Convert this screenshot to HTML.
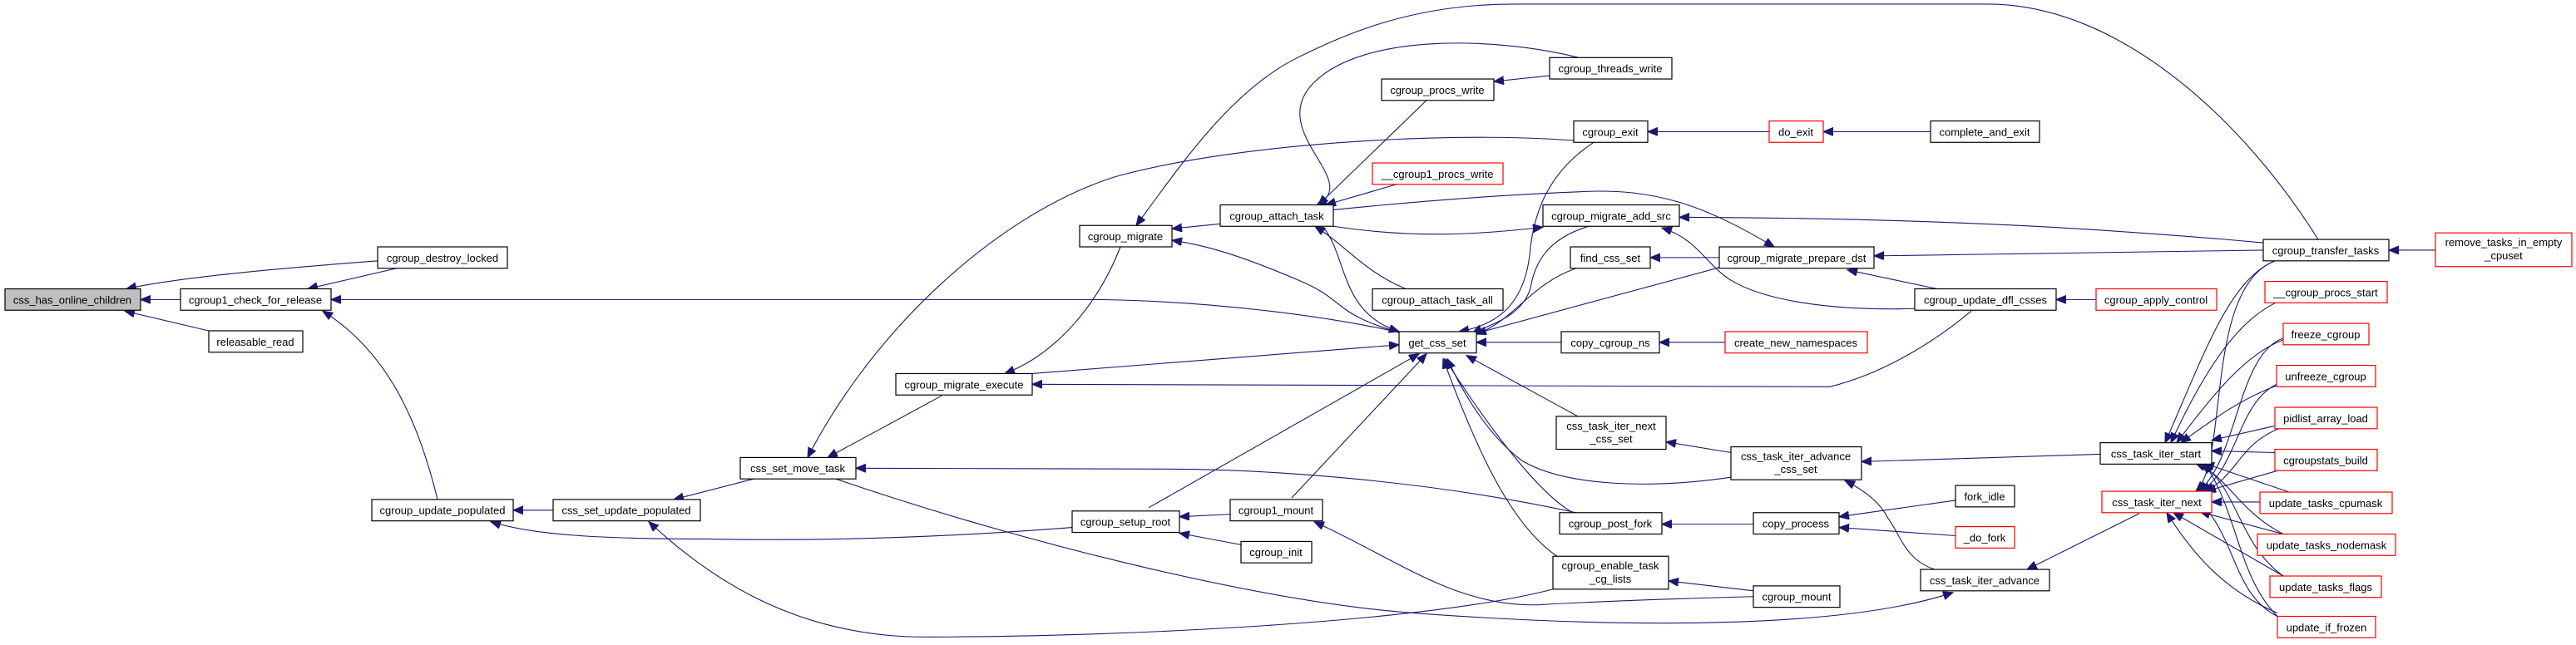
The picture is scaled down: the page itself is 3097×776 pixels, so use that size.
<!DOCTYPE html>
<html><head><meta charset="utf-8"><style>
html,body{margin:0;padding:0;background:#fff;}
svg{display:block;}
text{font-family:"Liberation Sans",sans-serif;font-size:13px;fill:#000;text-anchor:middle;}
.n rect{fill:#fff;stroke:#000;stroke-width:1.2;}
.r rect{fill:#fff;stroke:#ff0000;stroke-width:1.2;}
.g rect{fill:#bfbfbf;stroke:#000;stroke-width:1.2;}
path{fill:none;stroke:#191970;stroke-width:1.1;}
</style></head><body>
<svg width="3097" height="776" viewBox="0 0 3097 776" xmlns="http://www.w3.org/2000/svg">
<defs><marker id="a" markerUnits="userSpaceOnUse" markerWidth="14" markerHeight="12" refX="12" refY="5" orient="auto"><path d="M0,0 L12,5 L0,10 z" style="fill:#191970;stroke:#191970"/></marker></defs>
<g transform="scale(1,0.99)">
<g marker-end="url(#a)">
<path d="M217,364 L169,364"/>
<path d="M454,317 C350,325 220,336 152,351"/>
<path d="M251,402 L150,378"/>
<path d="M477,326 L370,351"/>
<path d="M1682,404 C1600,385 1450,364 1300,364 L398,364"/>
<path d="M526,607 C505,520 470,430 388,378"/>
<path d="M665,620 L617,620"/>
<path d="M1289,641 C1150,652 1000,658 850,655 C720,655 640,650 590,634"/>
<path d="M906,582 L810,607"/>
<path d="M1867,716 C1700,760 1300,775 1100,774 C950,770 850,700 780,634"/>
<path d="M1916,173 C1780,158 1500,170 1340,215 C1200,260 1050,400 971,556"/>
<path d="M1132,481 L995,556"/>
<path d="M1895,623 C1700,580 1500,570 1400,570 L1029,569"/>
<path d="M1005,582 C1200,650 1500,730 1700,745 C1900,760 2200,770 2348,720"/>
<path d="M2108,725 C2000,728 1900,732 1850,735 C1750,738 1680,680 1580,634"/>
<path d="M1715,122 L1585,249"/>
<path d="M1863,92 L1796,99"/>
<path d="M1898,70 C1800,45 1640,40 1580,100 C1520,160 1640,220 1583,249"/>
<path d="M1679,224 L1594,249"/>
<path d="M1467,272 L1409,278"/>
<path d="M1682,404 C1600,380 1620,365 1560,340 C1490,310 1450,298 1409,292"/>
<path d="M1347,300 C1320,370 1270,430 1208,454"/>
<path d="M1241,454 L1682,419"/>
<path d="M2370,378 C2320,420 2260,455 2200,470 C2100,472 1900,468 1241,467"/>
<path d="M2787,291 C2700,150 2550,5 2390,5 L1820,5 C1700,5 1620,40 1560,70 C1480,110 1420,200 1366,274"/>
<path d="M1690,351 C1640,330 1620,300 1581,275"/>
<path d="M1590,275 C1620,310 1610,380 1682,403"/>
<path d="M1603,275 C1700,290 1780,285 1855,276"/>
<path d="M1603,255 C1700,245 1800,237 1900,233 C1990,228 2050,250 2133,300"/>
<path d="M1916,173 C1860,210 1845,260 1840,300 C1835,370 1800,395 1754,403"/>
<path d="M1910,275 C1860,290 1845,320 1840,350 C1830,385 1790,395 1770,405"/>
<path d="M1895,326 C1840,345 1820,390 1775,406"/>
<path d="M2067,313 L1984,313"/>
<path d="M1775,405 L2093,318"/>
<path d="M1877,416 L1775,416"/>
<path d="M2074,416 L1995,416"/>
<path d="M1897,506 L1763,432"/>
<path d="M2081,550 L2003,537"/>
<path d="M2081,580 C1980,595 1880,590 1830,560 C1790,530 1760,480 1740,436"/>
<path d="M1891,623 C1850,600 1790,520 1737,436"/>
<path d="M1872,676 C1820,640 1780,560 1735,436"/>
<path d="M1381,617 L1706,430"/>
<path d="M1553,605 L1715,430"/>
<path d="M1479,625 L1418,628"/>
<path d="M1492,662 L1418,648"/>
<path d="M2721,295 C2500,275 2300,265 2019,264"/>
<path d="M2721,304 L2253,311"/>
<path d="M2329,351 L2221,328"/>
<path d="M2302,375 C2200,378 2120,365 2080,340 C2050,320 2040,290 1998,277"/>
<path d="M2520,364 L2472,364"/>
<path d="M2127,160 L1981,160"/>
<path d="M2321,160 L2192,160"/>
<path d="M2928,304 L2872,304"/>
<path d="M2525,552 L2238,561"/>
<path d="M2108,637 L1998,637"/>
<path d="M2351,608 L2211,628"/>
<path d="M2351,651 L2211,641"/>
<path d="M2326,692 C2290,680 2285,650 2270,630 C2260,610 2240,595 2218,584"/>
<path d="M2572,624 L2437,692"/>
<path d="M2108,718 L2006,706"/>
<!-- iter_start callers -->
<path d="M2735,317 C2680,340 2650,430 2603,538"/>
<path d="M2736,368 C2690,390 2650,450 2610,538"/>
<path d="M2745,413 C2700,430 2660,480 2617,538"/>
<path d="M2748,465 C2700,480 2660,510 2622,538"/>
<path d="M2742,516 L2659,535"/>
<path d="M2735,550 L2659,548"/>
<path d="M2752,598 L2650,563"/>
<path d="M2745,649 C2690,620 2680,580 2640,563"/>
<path d="M2745,700 C2690,660 2690,590 2645,563"/>
<path d="M2738,749 C2690,700 2690,620 2650,563"/>
<!-- iter_next callers -->
<path d="M2735,317 C2650,350 2680,560 2640,597"/>
<path d="M2745,411 C2690,430 2690,560 2643,597"/>
<path d="M2737,467 C2690,490 2690,570 2646,597"/>
<path d="M2742,520 C2690,540 2690,580 2650,597"/>
<path d="M2745,570 L2652,597"/>
<path d="M2717,610 L2659,610"/>
<path d="M2745,649 L2645,622"/>
<path d="M2745,700 L2613,623"/>
<path d="M2738,745 C2680,720 2640,680 2605,623"/>
<path d="M2738,749 C2680,720 2690,640 2630,597"/>
</g>
<!-- nodes -->
<g class="g"><rect x="6" y="351" width="163" height="26"/><text x="87" y="369">css_has_online_children</text></g>
<g class="n"><rect x="217" y="351" width="181" height="26"/><text x="307" y="369">cgroup1_check_for_release</text></g>
<g class="n"><rect x="454" y="300" width="156" height="26"/><text x="532" y="318">cgroup_destroy_locked</text></g>
<g class="n"><rect x="251" y="402" width="113" height="26"/><text x="307" y="420">releasable_read</text></g>
<g class="n"><rect x="447" y="607" width="170" height="26"/><text x="532" y="625">cgroup_update_populated</text></g>
<g class="n"><rect x="665" y="607" width="177" height="26"/><text x="753" y="625">css_set_update_populated</text></g>
<g class="n"><rect x="890" y="556" width="139" height="26"/><text x="959" y="574">css_set_move_task</text></g>
<g class="n"><rect x="1077" y="454" width="164" height="26"/><text x="1159" y="472">cgroup_migrate_execute</text></g>
<g class="n"><rect x="1298" y="274" width="111" height="26"/><text x="1353" y="292">cgroup_migrate</text></g>
<g class="n"><rect x="1467" y="249" width="136" height="26"/><text x="1535" y="267">cgroup_attach_task</text></g>
<g class="n"><rect x="1661" y="96" width="135" height="26"/><text x="1728" y="114">cgroup_procs_write</text></g>
<g class="n"><rect x="1863" y="70" width="147" height="26"/><text x="1936" y="88">cgroup_threads_write</text></g>
<g class="n"><rect x="1892" y="147" width="89" height="26"/><text x="1936" y="165">cgroup_exit</text></g>
<g class="r"><rect x="1650" y="198" width="157" height="26"/><text x="1728" y="216">__cgroup1_procs_write</text></g>
<g class="n"><rect x="1855" y="249" width="164" height="26"/><text x="1937" y="267">cgroup_migrate_add_src</text></g>
<g class="n"><rect x="1888" y="300" width="96" height="26"/><text x="1936" y="318">find_css_set</text></g>
<g class="n"><rect x="1650" y="351" width="157" height="26"/><text x="1728" y="369">cgroup_attach_task_all</text></g>
<g class="n"><rect x="1682" y="403" width="93" height="26"/><text x="1728" y="421">get_css_set</text></g>
<g class="n"><rect x="1877" y="403" width="118" height="26"/><text x="1936" y="421">copy_cgroup_ns</text></g>
<g class="n"><rect x="1871" y="506" width="132" height="40"/><text x="1937" y="522">css_task_iter_next</text><text x="1937" y="538">_css_set</text></g>
<g class="n"><rect x="1289" y="621" width="129" height="26"/><text x="1353" y="639">cgroup_setup_root</text></g>
<g class="n"><rect x="1479" y="607" width="111" height="26"/><text x="1534" y="625">cgroup1_mount</text></g>
<g class="n"><rect x="1492" y="658" width="85" height="26"/><text x="1534" y="676">cgroup_init</text></g>
<g class="n"><rect x="1875" y="623" width="123" height="26"/><text x="1936" y="641">cgroup_post_fork</text></g>
<g class="n"><rect x="1867" y="676" width="139" height="40"/><text x="1936" y="692">cgroup_enable_task</text><text x="1936" y="708">_cg_lists</text></g>
<g class="r"><rect x="2127" y="147" width="65" height="26"/><text x="2159" y="165">do_exit</text></g>
<g class="n"><rect x="2321" y="147" width="131" height="26"/><text x="2386" y="165">complete_and_exit</text></g>
<g class="n"><rect x="2721" y="291" width="151" height="26"/><text x="2796" y="309">cgroup_transfer_tasks</text></g>
<g class="r"><rect x="2928" y="283" width="164" height="41"/><text x="3010" y="299">remove_tasks_in_empty</text><text x="3010" y="315">_cpuset</text></g>
<g class="n"><rect x="2067" y="300" width="186" height="26"/><text x="2160" y="318">cgroup_migrate_prepare_dst</text></g>
<g class="n"><rect x="2302" y="351" width="170" height="26"/><text x="2387" y="369">cgroup_update_dfl_csses</text></g>
<g class="r"><rect x="2520" y="351" width="145" height="26"/><text x="2592" y="369">cgroup_apply_control</text></g>
<g class="r"><rect x="2074" y="403" width="171" height="26"/><text x="2159" y="421">create_new_namespaces</text></g>
<g class="n"><rect x="2081" y="543" width="157" height="40"/><text x="2159" y="559">css_task_iter_advance</text><text x="2159" y="575">_css_set</text></g>
<g class="n"><rect x="2108" y="623" width="103" height="26"/><text x="2159" y="641">copy_process</text></g>
<g class="n"><rect x="2351" y="590" width="71" height="26"/><text x="2386" y="608">fork_idle</text></g>
<g class="r"><rect x="2351" y="640" width="71" height="26"/><text x="2386" y="658">_do_fork</text></g>
<g class="n"><rect x="2108" y="712" width="104" height="26"/><text x="2160" y="730">cgroup_mount</text></g>
<g class="n"><rect x="2309" y="692" width="155" height="26"/><text x="2386" y="710">css_task_iter_advance</text></g>
<g class="n"><rect x="2525" y="538" width="134" height="26"/><text x="2592" y="556">css_task_iter_start</text></g>
<g class="r"><rect x="2527" y="597" width="132" height="26"/><text x="2593" y="615">css_task_iter_next</text></g>
<g class="r"><rect x="2723" y="342" width="147" height="26"/><text x="2796" y="360">__cgroup_procs_start</text></g>
<g class="r"><rect x="2745" y="393" width="103" height="26"/><text x="2796" y="411">freeze_cgroup</text></g>
<g class="r"><rect x="2737" y="444" width="119" height="26"/><text x="2796" y="462">unfreeze_cgroup</text></g>
<g class="r"><rect x="2735" y="495" width="123" height="26"/><text x="2796" y="513">pidlist_array_load</text></g>
<g class="r"><rect x="2735" y="546" width="123" height="26"/><text x="2796" y="564">cgroupstats_build</text></g>
<g class="r"><rect x="2717" y="598" width="159" height="26"/><text x="2796" y="616">update_tasks_cpumask</text></g>
<g class="r"><rect x="2714" y="649" width="166" height="26"/><text x="2797" y="667">update_tasks_nodemask</text></g>
<g class="r"><rect x="2729" y="700" width="134" height="26"/><text x="2796" y="718">update_tasks_flags</text></g>
<g class="r"><rect x="2738" y="749" width="118" height="26"/><text x="2797" y="767">update_if_frozen</text></g>
</g>
</svg>
</body></html>
